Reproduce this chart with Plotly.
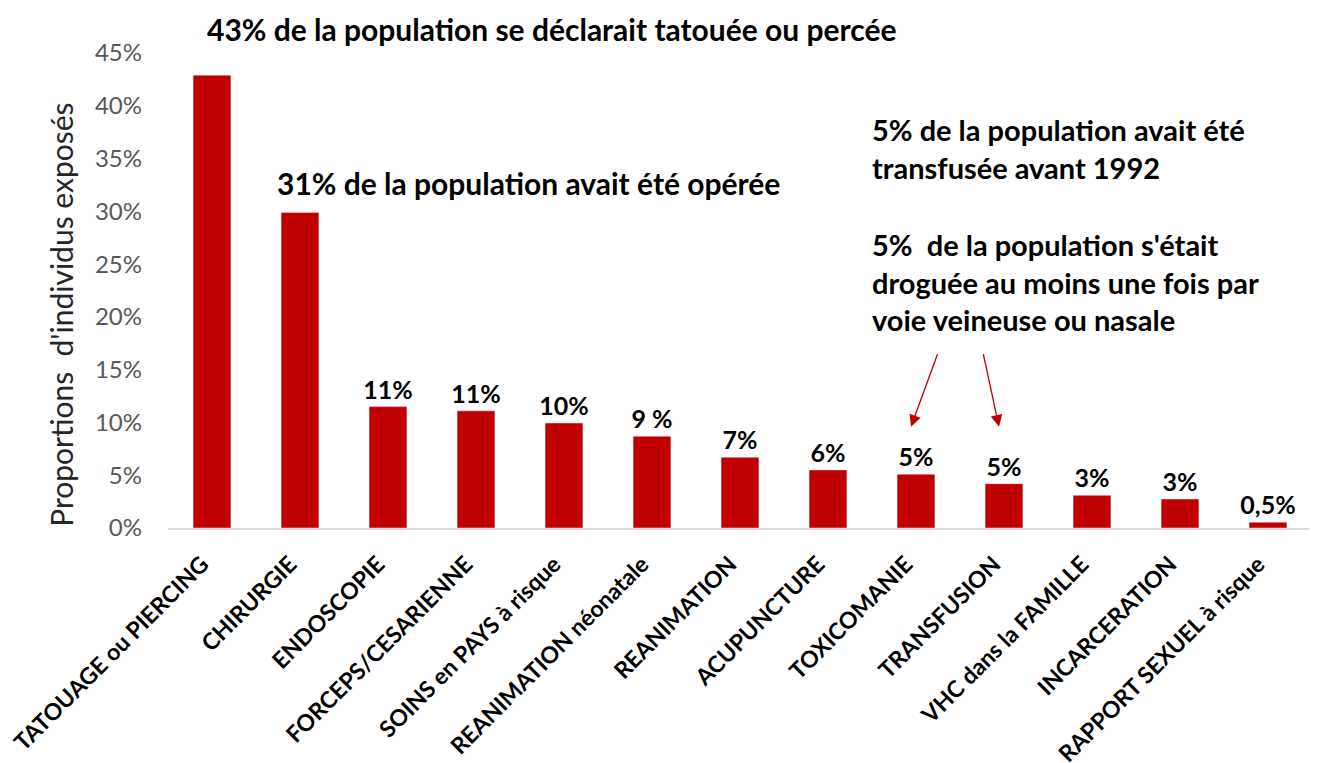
import plotly.graph_objects as go

categories = [
    "TATOUAGE ou PIERCING", "CHIRURGIE", "ENDOSCOPIE", "FORCEPS/CESARIENNE",
    "SOINS en PAYS à risque", "REANIMATION néonatale", "REANIMATION",
    "ACUPUNCTURE", "TOXICOMANIE", "TRANSFUSION", "VHC dans la FAMILLE",
    "INCARCERATION", "RAPPORT SEXUEL à risque",
]
values = [0.429, 0.299, 0.115, 0.111, 0.0995, 0.087, 0.067,
          0.055, 0.051, 0.042, 0.031, 0.0275, 0.0055]
value_labels = ["", "", "11%", "11%", "10%", "9 %", "7%",
                "6%", "5%", "5%", "3%", "3%", "0,5%"]
tick_vals = [0, 0.05, 0.10, 0.15, 0.20, 0.25, 0.30, 0.35, 0.40, 0.45]

RED = "#C00000"
FONT = "Lato"

fig = go.Figure(go.Bar(
    x=categories,
    y=values,
    text=value_labels,
    textposition="outside",
    constraintext="none",
    textfont=dict(family=FONT, size=25, color="black", weight="bold"),
    cliponaxis=False,
    marker_color=RED,
    width=0.43,
))

notes = [
    ("43% de la population se déclarait tatouée ou percée", 0.032, 1.05, 30),
    ("31% de la population avait été opérée", 0.0935, 0.726, 30),
    ("5% de la population avait été<br>transfusée avant 1992", 0.6136, 0.80, 29),
    ("5%  de la population s'était<br>droguée au moins une fois par<br>voie veineuse ou nasale",
     0.6136, 0.518, 29),
]
for txt, x, y, sz in notes:
    fig.add_annotation(text=txt, x=x, y=y, xref="paper", yref="paper",
                       xanchor="left", yanchor="middle", align="left",
                       showarrow=False,
                       font=dict(family=FONT, size=sz, color="black", weight="bold"))

# y axis title, placed lower than the default centre
fig.add_annotation(text="Proportions  d'individus exposés", textangle=-90,
                   x=-0.093, y=0.448, xref="paper", yref="paper",
                   xanchor="center", yanchor="middle", showarrow=False,
                   font=dict(family=FONT, size=30, color="#262626"))

# arrows toward TOXICOMANIE and TRANSFUSION
for hx, ax in [(0.6495, 27), (0.7264, -16)]:
    fig.add_annotation(x=hx, y=0.096, xref="paper", yref="y", text="",
                       showarrow=True, ax=ax, ay=-74, arrowcolor=RED,
                       arrowhead=2, arrowsize=1.8, arrowwidth=1.3)

fig.update_layout(
    width=1309, height=755,
    margin=dict(l=160, r=5, t=45, b=235),
    plot_bgcolor="white", paper_bgcolor="white",
    font=dict(family=FONT),
    showlegend=False,
    bargap=0.57,
)
fig.update_xaxes(
    automargin=False,
    tickangle=-45,
    tickfont=dict(family=FONT, size=23, color="black", weight="bold"),
    ticklabelshift=-10, ticklabelstandoff=12,
    showline=True, linecolor="#D9D9D9", linewidth=1.5,
    ticks="", showgrid=False,
)
fig.update_yaxes(
    automargin=False,
    range=[0, 0.45],
    tickvals=tick_vals,
    tickformat=".0%",
    tickfont=dict(family=FONT, size=24, color="#595959"),
    ticklabelstandoff=25,
    showgrid=False, zeroline=False, ticks="",
)

fig.write_html("out.html")
